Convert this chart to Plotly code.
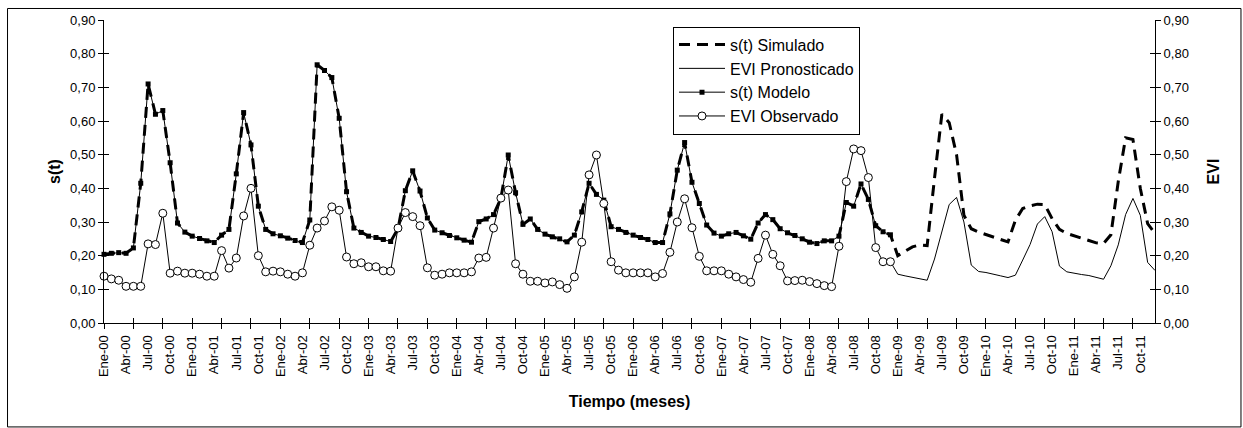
import plotly.graph_objects as go

# Month index (0 = Ene-00 ... 143 = Dic-11)
meses_modelo = list(range(0, 108))
meses_simulado_pron = list(range(108, 144))
meses_pronostico = list(range(107, 144))

s_modelo = [
    0.204, 0.207, 0.209, 0.207, 0.223, 0.415, 0.710, 0.620, 0.631, 0.476, 0.297, 0.270,
    0.258, 0.251, 0.244, 0.239, 0.261, 0.278, 0.443, 0.625, 0.529, 0.347, 0.278, 0.265,
    0.259, 0.252, 0.245, 0.239, 0.306, 0.767, 0.750, 0.729, 0.608, 0.390, 0.282, 0.269,
    0.258, 0.254, 0.248, 0.242, 0.280, 0.393, 0.452, 0.392, 0.312, 0.276, 0.268, 0.260,
    0.253, 0.246, 0.240, 0.301, 0.309, 0.322, 0.370, 0.499, 0.387, 0.293, 0.309, 0.278,
    0.264, 0.256, 0.250, 0.241, 0.261, 0.330, 0.415, 0.382, 0.365, 0.286, 0.278, 0.269,
    0.261, 0.254, 0.248, 0.239, 0.239, 0.324, 0.454, 0.536, 0.418, 0.355, 0.291, 0.267,
    0.258, 0.265, 0.269, 0.259, 0.249, 0.297, 0.322, 0.307, 0.280, 0.268, 0.260, 0.250,
    0.240, 0.236, 0.244, 0.244, 0.258, 0.358, 0.347, 0.413, 0.367, 0.289, 0.271, 0.262,
]

s_simulado_pron = [
    0.200, 0.212, 0.226, 0.232, 0.230, 0.430, 0.620, 0.595, 0.500, 0.320, 0.280, 0.270,
    0.262, 0.255, 0.248, 0.241, 0.305, 0.340, 0.348, 0.353, 0.352, 0.310, 0.278, 0.266,
    0.258, 0.252, 0.245, 0.238, 0.236, 0.262, 0.420, 0.550, 0.545, 0.400, 0.295, 0.266,
]

evi_observado = [
    0.139, 0.131, 0.127, 0.109, 0.109, 0.109, 0.235, 0.233, 0.326, 0.148, 0.154, 0.148,
    0.148, 0.145, 0.139, 0.139, 0.215, 0.163, 0.193, 0.318, 0.400, 0.200, 0.152, 0.154,
    0.152, 0.145, 0.139, 0.149, 0.231, 0.282, 0.303, 0.345, 0.335, 0.196, 0.176, 0.179,
    0.167, 0.167, 0.155, 0.154, 0.282, 0.328, 0.316, 0.289, 0.164, 0.142, 0.145, 0.149,
    0.149, 0.149, 0.152, 0.193, 0.195, 0.282, 0.371, 0.395, 0.176, 0.145, 0.124, 0.124,
    0.119, 0.122, 0.114, 0.103, 0.137, 0.240, 0.440, 0.499, 0.355, 0.182, 0.157, 0.149,
    0.149, 0.149, 0.149, 0.137, 0.147, 0.210, 0.300, 0.369, 0.283, 0.198, 0.155, 0.155,
    0.155, 0.145, 0.137, 0.129, 0.121, 0.192, 0.261, 0.204, 0.170, 0.125, 0.126, 0.127,
    0.123, 0.117, 0.111, 0.108, 0.228, 0.420, 0.517, 0.512, 0.432, 0.224, 0.182, 0.182,
]

evi_pronosticado = [
    0.182, 0.145, 0.140, 0.135, 0.131, 0.127, 0.190, 0.275, 0.352, 0.373, 0.300, 0.172,
    0.153, 0.150, 0.146, 0.140, 0.135, 0.142, 0.187, 0.233, 0.294, 0.316, 0.271, 0.169,
    0.152, 0.147, 0.144, 0.141, 0.136, 0.130, 0.170, 0.232, 0.322, 0.370, 0.320, 0.180,
    0.156,
]

etiquetas_meses = [
    "Ene-00", "Abr-00", "Jul-00", "Oct-00", "Ene-01", "Abr-01", "Jul-01", "Oct-01",
    "Ene-02", "Abr-02", "Jul-02", "Oct-02", "Ene-03", "Abr-03", "Jul-03", "Oct-03",
    "Ene-04", "Abr-04", "Jul-04", "Oct-04", "Ene-05", "Abr-05", "Jul-05", "Oct-05",
    "Ene-06", "Abr-06", "Jul-06", "Oct-06", "Ene-07", "Abr-07", "Jul-07", "Oct-07",
    "Ene-08", "Abr-08", "Jul-08", "Oct-08", "Ene-09", "Abr-09", "Jul-09", "Oct-09",
    "Ene-10", "Abr-10", "Jul-10", "Oct-10", "Ene-11", "Abr-11", "Jul-11", "Oct-11",
]
pos_etiquetas = list(range(0, 144, 3))
pos_marcas = list(range(0, 144, 4))

FONT = "Liberation Sans, Arial, sans-serif"
NEGRO = "#000000"

# s(t) simulado covers the whole period: model fit followed by the forecast
meses_simulado = meses_modelo + meses_simulado_pron
s_simulado = s_modelo + s_simulado_pron

fig = go.Figure()

fig.add_trace(go.Scatter(
    x=meses_simulado, y=s_simulado, name="s(t) Simulado", mode="lines",
    line=dict(color=NEGRO, width=3, dash="11px,7px"), cliponaxis=False,
))
fig.add_trace(go.Scatter(
    x=meses_pronostico, y=evi_pronosticado, name="EVI Pronosticado", mode="lines",
    line=dict(color=NEGRO, width=1), yaxis="y2", cliponaxis=False,
))
fig.add_trace(go.Scatter(
    x=meses_modelo, y=s_modelo, name="s(t) Modelo", mode="lines+markers",
    line=dict(color=NEGRO, width=1),
    marker=dict(symbol="square", size=5, color=NEGRO), cliponaxis=False,
))
fig.add_trace(go.Scatter(
    x=meses_modelo, y=evi_observado, name="EVI Observado", mode="lines+markers",
    line=dict(color=NEGRO, width=1),
    marker=dict(symbol="circle", size=8, color="white", line=dict(color=NEGRO, width=1)),
    yaxis="y2", cliponaxis=False,
))

# empty helper traces so the tick-mark-only axes are rendered
for xa, ya in (("x2", "y3"), ("x3", "y4")):
    fig.add_trace(go.Scatter(
        x=[None], y=[None], xaxis=xa, yaxis=ya, mode="lines",
        showlegend=False, hoverinfo="skip",
    ))

rango_x = [0, 143]
rango_y = [0, 0.9]
tick_font = dict(family=FONT, size=13, color=NEGRO)
title_font = dict(family=FONT, size=16, color=NEGRO, weight="bold")

fig.update_layout(
    width=1243, height=428, autosize=False,
    margin=dict(l=104, r=88, t=20, b=105),
    paper_bgcolor="white", plot_bgcolor="white",
    separators=",.",
    font=dict(family=FONT, color=NEGRO),
    showlegend=True,
    legend=dict(
        x=0.5414, y=0.978, xanchor="left", yanchor="top",
        bgcolor="white", bordercolor=NEGRO, borderwidth=1,
        font=dict(family=FONT, size=16, color=NEGRO),
        tracegroupgap=0, itemwidth=46,
    ),
    # bottom axis: line and month labels every 3 months
    xaxis=dict(
        range=rango_x, showgrid=False, zeroline=False,
        showline=True, linecolor=NEGRO, linewidth=1,
        tickmode="array", tickvals=pos_etiquetas, ticktext=etiquetas_meses,
        ticks="outside", ticklen=6, tickcolor="rgba(0,0,0,0)",
        tickangle=-90, tickfont=tick_font,
        title=dict(text="Tiempo (meses)", font=title_font, standoff=19),
    ),
    # outward half of the crossing tick marks every 4 months
    xaxis2=dict(
        overlaying="x", anchor="y", side="bottom", range=rango_x,
        showgrid=False, zeroline=False, showline=False,
        tickmode="array", tickvals=pos_marcas, ticks="outside", ticklen=5,
        tickcolor=NEGRO, showticklabels=False,
    ),
    # inward half of the crossing tick marks
    xaxis3=dict(
        overlaying="x", anchor="y", side="bottom", range=rango_x,
        showgrid=False, zeroline=False, showline=False,
        tickmode="array", tickvals=pos_marcas, ticks="inside", ticklen=5,
        tickcolor=NEGRO, showticklabels=False,
    ),
    yaxis=dict(
        range=rango_y, showgrid=False, zeroline=False,
        showline=True, linecolor=NEGRO, linewidth=1,
        tickmode="linear", tick0=0, dtick=0.1, tickformat=".2f",
        ticks="outside", ticklen=5, tickcolor=NEGRO, tickfont=tick_font,
        title=dict(text="s(t)", font=title_font, standoff=5),
    ),
    yaxis2=dict(
        overlaying="y", anchor="x", side="right", range=rango_y,
        showgrid=False, zeroline=False,
        showline=True, linecolor=NEGRO, linewidth=1,
        tickmode="linear", tick0=0, dtick=0.1, tickformat=".2f",
        ticks="outside", ticklen=5, tickcolor=NEGRO, tickfont=tick_font,
        title=dict(text="EVI", font=title_font, standoff=19),
    ),
    yaxis3=dict(
        overlaying="y", anchor="x", side="left", range=rango_y,
        showgrid=False, zeroline=False, showline=False,
        tickmode="linear", tick0=0, dtick=0.1,
        ticks="inside", ticklen=5, tickcolor=NEGRO, showticklabels=False,
    ),
    yaxis4=dict(
        overlaying="y", anchor="x", side="right", range=rango_y,
        showgrid=False, zeroline=False, showline=False,
        tickmode="linear", tick0=0, dtick=0.1,
        ticks="inside", ticklen=5, tickcolor=NEGRO, showticklabels=False,
    ),
    shapes=[dict(
        type="rect", xref="paper", yref="paper",
        x0=-0.0918, x1=1.0818, y0=-0.343, y1=1.038,
        line=dict(color=NEGRO, width=1), fillcolor="rgba(0,0,0,0)", layer="below",
    )],
)

fig.write_html("out.html")
